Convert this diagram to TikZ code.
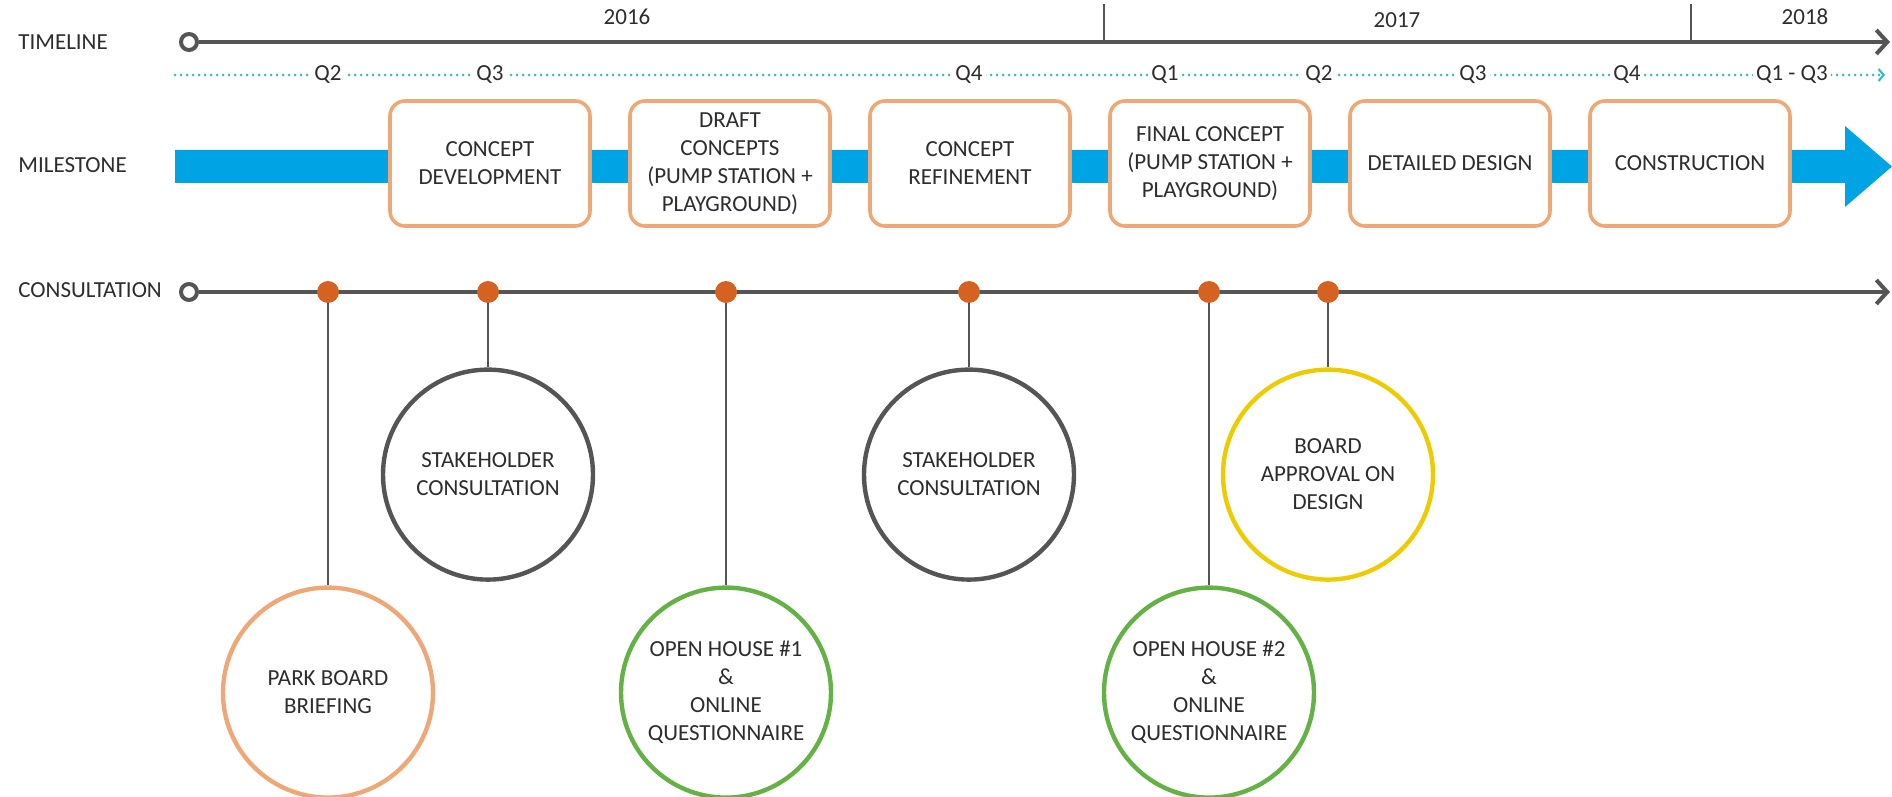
\documentclass[tikz,border=0pt]{standalone}
\usepackage{fontspec}
\setmainfont{Carlito}
\usetikzlibrary{arrows.meta,positioning}
\definecolor{lineGray}{RGB}{85,85,85}
\definecolor{textGray}{RGB}{45,45,45}
\definecolor{msBlue}{RGB}{0,163,228}
\definecolor{boxOrange}{RGB}{238,168,120}
\definecolor{dotOrange}{RGB}{214,98,34}
\definecolor{ringGreen}{RGB}{100,178,70}
\definecolor{ringYellow}{RGB}{236,204,0}
\definecolor{qTeal}{RGB}{60,185,200}

\begin{document}
\begin{tikzpicture}[x=0.5pt, y=-0.5pt,
  every node/.style = {font=\fontsize{11.5}{14}\selectfont, text=textGray, align=center},
  rowlabel/.style = {anchor=west, inner sep=0pt},
  startring/.style = {circle, draw=lineGray, line width=2pt, fill=white,
    minimum size=8pt, inner sep=0pt},
  tline/.style = {draw=lineGray, line width=2pt, -{Straight Barb[length=5.5pt,width=12pt]}},
  yeartick/.style = {draw=lineGray, line width=0.7pt},
  quarter/.style = {fill=white, inner sep=1.5pt},
  stage/.style = {shape=rectangle, rounded corners=7.5pt, draw=boxOrange,
    line width=1.8pt, fill=white, minimum width=100pt, minimum height=62.5pt,
    outer sep=0pt},
  event/.style = {circle, fill=dotOrange, minimum size=11pt, inner sep=0pt},
  stick/.style = {draw=lineGray, line width=1.3pt},
  ring/.style = {circle, draw=#1, line width=2.2pt, fill=white,
    minimum size=105pt, inner sep=0pt}]

  \useasboundingbox (0,0) rectangle (1892,797);

  % row labels
  \node[rowlabel] (lblTime) at (18,42) {TIMELINE};
  \node[rowlabel] (lblMile) at (18,165) {MILESTONE};
  \node[rowlabel] (lblCons) at (18,290) {CONSULTATION};

  % timeline
  \draw[yeartick] (1104,4) -- (1104,42);
  \draw[yeartick] (1691,4) -- (1691,42);
  \node[startring] (t0) at (189,42) {};
  \coordinate (tEnd) at (1890,42);
  \draw[tline] (t0) -- (tEnd);
  \node (y16) at (627,17) {2016};
  \node (y17) at (1397,20) {2017};
  \node (y18) at (1805,17) {2018};

  % quarters
  \coordinate (qStart) at (175,75);
  \coordinate (qEnd) at (1885,75);
  \draw[qTeal, line width=1.5pt, line cap=round, dash pattern=on 0pt off 3pt,
    -{Straight Barb[length=2.5pt,width=6pt,line width=1.1pt]}] (qStart) -- (qEnd);
  \foreach \qx/\qt [count=\qi] in {328/Q2, 490/Q3, 969/Q4, 1165/Q1, 1319/Q2,
    1473/Q3, 1627/Q4, 1792/Q1 - Q3}
    \node[quarter] (q\qi) at (\qx,75) {\qt};

  % milestones
  \fill[msBlue] (175,150) -- (1845,150) -- (1845,126) -- (1892,166.5)
    -- (1845,207) -- (1845,183) -- (175,183) -- cycle;
  \node[stage] (m1) at (490,163.5) {CONCEPT\\DEVELOPMENT};
  \node[stage, right=20pt of m1] (m2) {DRAFT\\CONCEPTS\\(PUMP STATION +\\PLAYGROUND)};
  \node[stage, right=20pt of m2] (m3) {CONCEPT\\REFINEMENT};
  \node[stage, right=20pt of m3] (m4) {FINAL CONCEPT\\(PUMP STATION +\\PLAYGROUND)};
  \node[stage, right=20pt of m4] (m5) {DETAILED DESIGN};
  \node[stage, right=20pt of m5] (m6) {CONSTRUCTION};

  % consultation
  \node[startring] (c0) at (189,292) {};
  \coordinate (cEnd) at (1890,292);
  \draw[tline] (c0) -- (cEnd);
  \node[event] (e1) at (328,292) {};
  \node[event] (e2) at (488,292) {};
  \node[event] (e3) at (726,292) {};
  \node[event] (e4) at (969,292) {};
  \node[event] (e5) at (1209,292) {};
  \node[event] (e6) at (1328,292) {};

  \node[ring=boxOrange, below=141pt of e1] (r1) {PARK BOARD\\BRIEFING};
  \node[ring=lineGray, below=32pt of e2] (r2) {STAKEHOLDER\\CONSULTATION};
  \node[ring=ringGreen, below=141pt of e3] (r3) {OPEN HOUSE \#1\\\&\\ONLINE\\QUESTIONNAIRE};
  \node[ring=lineGray, below=32pt of e4] (r4) {STAKEHOLDER\\CONSULTATION};
  \node[ring=ringGreen, below=141pt of e5] (r5) {OPEN HOUSE \#2\\\&\\ONLINE\\QUESTIONNAIRE};
  \node[ring=ringYellow, below=32pt of e6] (r6) {BOARD\\APPROVAL ON\\DESIGN};

  \draw[stick] (e1) -- (r1);
  \draw[stick] (e2) -- (r2);
  \draw[stick] (e3) -- (r3);
  \draw[stick] (e4) -- (r4);
  \draw[stick] (e5) -- (r5);
  \draw[stick] (e6) -- (r6);
\end{tikzpicture}
\end{document}
